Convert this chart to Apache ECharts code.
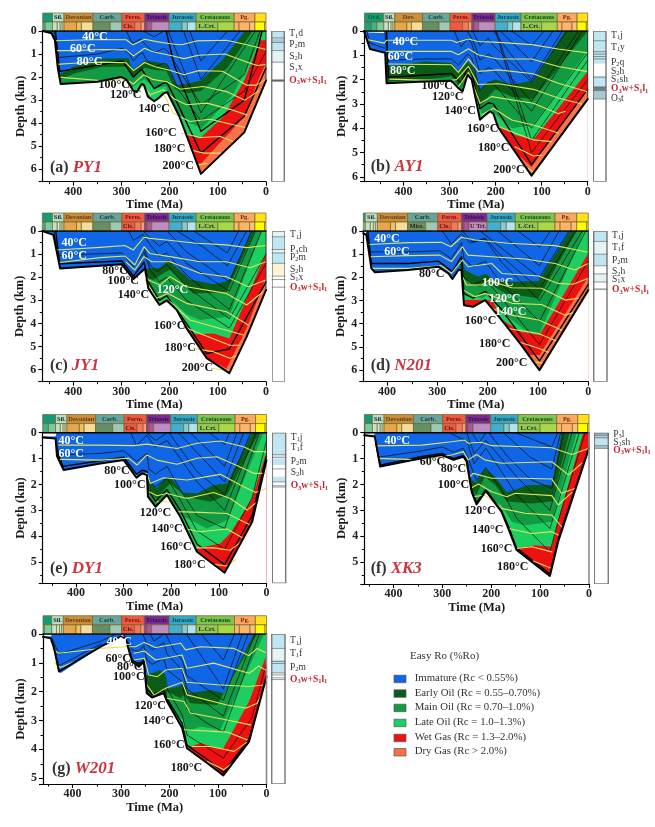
<!DOCTYPE html>
<html><head><meta charset="utf-8">
<style>html,body{margin:0;padding:0;background:#fff}#c{width:655px;height:827px}</style>
<script src="https://cdn.jsdelivr.net/npm/echarts@6/dist/echarts.min.js"></script>
</head><body><div id="c"></div>
<script>
// ---------- Legend / maturity classes ----------
const maturityNames = ['Immature (Rc < 0.55%)','Early Oil (Rc = 0.55–0.70%)','Main Oil (Rc = 0.70–1.0%)','Late Oil (Rc = 1.0–1.3%)','Wet Gas (Rc = 1.3–2.0%)','Dry Gas (Rc > 2.0%)'];
// ---------- Geological time scale (start Ma, end Ma) ----------
const periods = [[485,443],[443,419],[419,359],[359,299],[299,252],[252,201],[201,145],[145,66],[66,23],[23,0]];
const stages = [[485,470],[470,458],[458,443],[443,433],[433,427],[427,423],[423,419],[419,393],[393,383],[383,359],[359,323],[323,299],[299,272],[272,259],[259,252],[252,247],[247,237],[237,201],[201,174],[174,163],[163,145],[145,100],[100,66],[66,56],[56,34],[34,23],[23,3],[3,0]];

// ---------- (a) PY1 ----------
const PY1_base=[[463,0],[445,.1],[438,.4],[432,1.6],[426,2.3],[400,2.27],[350,2.2],[300,2],[290,2.1],[275,2.6],[268,2.65],[258,2.3],[253,2.35],[245,2.85],[232,3.05],[222,2.9],[212,2.7],[205,2.65],[180,3.7],[160,4.8],[135,6.2],[45,4.4],[0,2.15]];
const PY1_top=[];
const PY1_imm=[[442,.15],[436,.9],[432,1.85],[425,1.85],[400,1.55],[340,1.2],[285,1.18],[277,1.7],[265,1.5],[252,1.3],[228,1.35],[207,1.45],[185,2.35],[165,2.3],[135,2.15],[90,1.25],[44,0]];
const PY1_early=[[430,2.1],[420,2.05],[400,1.85],[340,1.55],[288,1.55],[278,2],[260,1.75],[252,1.6],[228,1.7],[207,1.72],[190,2.5],[165,2.7],[135,2.6],[80,1.6],[28,0]];
const PY1_main=[[427,2.4],[340,2.3],[295,2.1],[280,2.5],[262,2.2],[252,2.1],[230,2.5],[207,2.4],[192,3.43],[165,3.93],[133,4.22],[68,2.75],[30,1.2],[8,0]];
const PY1_late=[[192,3.6],[175,4.44],[137,4.65],[88,3.71],[44,2.1],[12,.4],[0,.4]];
const PY1_wet=[[158,5.45],[137,5.8],[102,5],[44,3.7],[19,2.27],[0,1.4]];
const PY1_layers=[[[440,0],[430,1.15],[350,1],[298,.75],[285,.95],[275,1.3],[262,1],[255,.95],[250,1.2],[232,1.55],[212,1.4],[205,1.45],[180,2.6],[135,3.9],[45,2.6],[0,.9]],[[290,0],[277,.55],[260,.35],[252,.55],[232,.95],[212,.75],[205,.85],[135,3.2],[45,1.9],[12,0]],[[255,0],[232,.25],[212,0]],[[203,0],[135,3.55],[22,0]],[[171,0],[135,2.1],[54,0]],[[158,0],[135,1.3],[80,0]]];
const PY1_thick=[[[437,0],[428,1.75],[298,1.3],[275,2],[258,1.65],[232,2.5],[212,2.25],[205,2.25],[180,3.3],[135,5.3],[45,3.7],[0,1.6]],[[207,0],[190,1.5],[135,4.35],[45,3],[8,0]]];
const PY1_iso=[[[438,.42],[400,.4],[340,.37],[290,.38],[276,.6],[252,.36],[227,.46],[199,.55],[175,.6],[144,.43],[82,.4],[40,.6],[0,.8]],[[436,.85],[400,.85],[340,.8],[290,.82],[275,1.08],[252,.75],[235,.9],[200,1.05],[170,1.2],[140,1.05],[85,1],[40,1.35],[18,1.5],[0,1.45]],[[434,1.45],[400,1.4],[340,1.35],[290,1.38],[275,1.72],[252,1.37],[230,1.55],[200,1.7],[170,1.9],[140,1.72],[90,1.75],[40,2.35],[20,2.35],[0,2.1]],[[431,2],[344,2.15],[290,2.1],[275,2.3],[254,1.9],[235,2.1],[206,2.2],[178,2.53],[130,2.41],[82,2.63],[44,3],[15,2.6]],[[270,2.6],[254,2.4],[240,2.77],[213,2.55],[190,2.95],[165,3.2],[122,3.13],[75,3.4],[40,3.64]],[[213,2.7],[192,3.57],[158,3.93],[116,3.83],[68,4.07],[40,4.2]],[[175,4.43],[137,4.62],[95,4.58],[68,4.8]],[[158,5.15],[130,5.3],[95,5.3]],[[140,5.8],[122,5.75]]];
const PY1_temps=[[355,.25,'40°C',1],[380,.78,'60°C',1],[366,1.33,'80°C',1],[315,2.36,'100°C',0],[291,2.77,'120°C',0],[232,3.4,'140°C',0],[218,4.44,'160°C',0],[200,5.12,'180°C',0],[182,5.84,'200°C',0]];
const PY1_units=[[0,.35,'b'],[.35,.5,'g'],[.5,.85,'b'],[.85,1.4,'p'],[1.4,2.1,'w'],[2.1,2.2,'d']];
const PY1_rules=[.3,.5,.85,1.35,2.15];
const PY1_tops=[[.13,'T1d'],[.58,'P2m'],[1.1,'S2h'],[1.6,'S1x'],[2.15,'O3w+S1l1']];

// ---------- (b) AY1 ----------
const AY1_base=[[486,0],[473,.74],[440,.9],[437,2.15],[354,2.08],[296,2.05],[281,2.35],[272,2.49],[261,1.8],[252,2],[234,3.65],[225,3.5],[212,3.3],[205,3.4],[195,3.95],[122,5.95],[0,2.8]];
const AY1_top=[[484,0],[476,.06],[442,.08],[439,0]];
const AY1_imm=[[438,.9],[433,1.46],[354,1.25],[296,1.32],[281,1.66],[263,1.25],[249,1.46],[234,2.4],[216,2.12],[201,2],[165,2.2],[118,2.05],[49,0]];
const AY1_early=[[433,2.08],[354,2],[296,1.87],[277,2.3],[261,1.73],[249,1.95],[232,3.1],[216,2.7],[201,2.4],[165,2.7],[118,2.8],[0,0]];
const AY1_main=[[433,2.3],[296,2.2],[277,2.5],[261,1.9],[249,2.2],[230,3.45],[209,3.25],[190,3.6],[165,4],[118,3.87],[0,.8]];
const AY1_late=[[240,4],[194,3.9],[158,4.28],[118,4.46],[0,1.67]];
const AY1_wet=[[145,5.2],[122,5.6],[0,2.35]];
const AY1_layers=[[[480,0],[473,.5],[442,.7]],[[441,0],[435,1.2],[354,1.15],[296,1.15],[281,1.4],[261,.95],[252,1.1],[234,2.45],[216,2.1],[205,2.15],[122,4],[0,.9]],[[290,0],[275,.65],[261,.3],[252,.5],[234,1.75],[216,1.5],[205,1.6],[122,3.3],[12,0]],[[262,0],[250,.35],[234,1.2],[216,.95],[205,1.1],[122,2.9],[20,0]],[[250,0],[234,.6],[216,.3],[205,.6],[122,2.1],[45,0]],[[205,0],[165,1],[122,2],[55,0]],[[190,0],[122,1.25],[75,0]],[[165,0],[122,.6],[95,0]],[[198,0],[122,4.5],[0,1.2]],[[200,0],[122,5],[0,2]]];
const AY1_thick=[[[437,0],[433,1.9],[296,1.75],[275,2.15],[261,1.5],[252,1.7],[234,3.2],[216,2.95],[205,3],[122,5.5],[0,2.4]]];
const AY1_iso=[[[480,.35],[442,.5],[437,.38],[296,.38],[285,.47],[259,.33],[238,.43],[194,.47],[122,.56],[64,.74],[0,.9]],[[437,.84],[296,.84],[281,.98],[259,.73],[238,.98],[194,1.15],[122,1.15],[64,1.46],[0,1.67]],[[433,1.36],[296,1.39],[281,1.7],[259,1.15],[238,1.66],[194,1.6],[118,1.76],[64,2.15],[0,2.5]],[[430,1.98],[303,2.05],[285,2],[259,1.46],[238,2.2],[194,2.17],[118,2.4],[64,2.76],[13,3]],[[281,2.3],[259,1.7],[234,2.97],[209,2.7],[118,2.97],[64,3.4],[49,3.3]],[[230,3.45],[205,3.18],[165,3.66],[118,3.87],[64,4.2]],[[194,3.93],[158,4.2],[118,4.48],[78,4.55]],[[158,4.76],[118,5.14],[100,5.1]],[[129,5.65],[118,5.8]]];
const AY1_temps=[[396,.43,'40°C',1],[407,1.05,'60°C',1],[402,1.64,'80°C',1],[327,2.26,'100°C',0],[304,2.7,'120°C',0],[277,3.27,'140°C',0],[228,4.04,'160°C',0],[204,4.83,'180°C',0],[171,5.7,'200°C',0]];
const AY1_units=[[0,.4,'b'],[.4,.7,'b'],[.7,1.35,'b'],[1.35,1.85,'w'],[1.85,2.3,'b'],[2.3,2.45,'d'],[2.45,2.8,'g']];
const AY1_rules=[.4,.85,.95,1.05,1.15,1.9,2.3,2.45,2.8];
const AY1_tops=[[.19,'T1j'],[.67,'T1y'],[1.29,'P2q'],[1.66,'S2h'],[2,'S1sh'],[2.38,'O3w+S1l1'],[2.76,'O3t']];

// ---------- (c) JY1 ----------
const JY1_base=[[464,0],[441,.17],[427,1.62],[344,1.5],[299,1.44],[275,2.08],[251,1.62],[244,2.48],[221,3.2],[206,3],[185,3.42],[165,4.2],[123,5.5],[76,6.15],[40,4.57],[0,2.55]];
const JY1_top=[];
const JY1_imm=[[463,.1],[427,1.8],[300,1.7],[275,2.2],[268,1.97],[254,1.68],[240,1.6],[220,1.6],[203,1.25],[185,1.6],[158,2.1],[109,2.3],[78,2.16],[33,.2],[30,0]];
const JY1_early=[[268,2.2],[251,1.98],[234,2.12],[213,1.83],[199,1.68],[178,2.12],[151,2.7],[82,2.65],[23,0]];
const JY1_main=[[248,2.34],[227,3.06],[203,2.84],[165,3.6],[137,3.85],[76,3.7],[9,0]];
const JY1_late=[[240,4],[165,4.14],[151,4.47],[109,4.43],[76,4.65],[37,2.77],[0,.97]];
const JY1_wet=[[123,5.5],[82,5.95],[40,4.2],[0,2]];
const JY1_layers=[[[440,0],[430,1.05],[299,.95],[275,1.55],[253,.9],[240,1.7],[221,2.2],[206,2],[165,3],[76,4.2],[0,1.4]],[[285,0],[275,.4],[255,.15],[240,.6],[221,1.1],[206,.95],[165,1.9],[76,3.4],[9,0]],[[255,0],[240,.3],[221,.65],[206,.45],[165,1.4],[76,2.6],[22,0]],[[205,0],[165,.9],[76,2.2],[30,0]],[[185,0],[130,.7],[80,1.5],[40,0]],[[150,0],[80,.95],[57,0]],[[252,.8],[240,1.5],[225,1.75],[206,1.45],[165,2.4],[76,3.8],[0,1]]];
const JY1_thick=[[[436,0],[428,1.42],[299,1.3],[275,1.95],[253,1.35],[244,2.2],[221,3],[206,2.8],[165,4],[123,5.3],[76,5.1],[0,2.2]]];
const JY1_iso=[[[434,.82],[344,.71],[293,.63],[275,.82],[253,.27],[241,.32],[206,.39],[144,.53],[82,.6],[40,.72],[0,.63]],[[427,1.36],[344,1.15],[293,1.08],[272,1.47],[253,.68],[241,.97],[199,1.11],[137,1.33],[82,1.33],[33,1.59],[0,1.33]],[[290,1.35],[272,1.69],[253,1.11],[237,1.33],[199,1.33],[137,1.83],[82,1.98],[37,2.41],[0,2.12]],[[255,1.69],[244,2.12],[220,2.34],[199,1.98],[165,2.41],[82,2.7],[40,3.2],[6,2.63]],[[251,2.12],[227,2.91],[203,2.7],[165,3.13],[82,3.49],[37,4.07]],[[220,3.13],[199,3.06],[158,3.85],[82,4.29],[47,4.5]],[[171,4.14],[137,4.43],[75,4.94],[54,4.94]],[[151,5.08],[109,5.22],[75,5.51],[60,5.4]],[[109,5.95],[75,6.05]]];
const JY1_temps=[[398,.53,'40°C',1],[398,1.08,'60°C',1],[313,1.72,'80°C',0],[296,2.18,'100°C',0],[275,2.77,'140°C',0],[194,2.55,'120°C',1],[200,4.1,'160°C',0],[178,5.04,'180°C',0],[142,5.92,'200°C',0]];
const JY1_units=[[0,.25,'p'],[.25,.8,'b'],[.8,.95,'p'],[.95,1.4,'b'],[1.4,1.9,'y'],[1.9,2.35,'w']];
const JY1_rules=[.25,.8,.95,1.4,1.95,2.1,2.43];
const JY1_tops=[[.17,'T1j'],[.82,'P3ch'],[1.15,'P2m'],[1.66,'S2h'],[2.02,'S1x'],[2.44,'O3w+S1l1']];

// ---------- (d) N201 ----------
const N201_base=[[447,.1],[441,.17],[431,1.61],[424,1.78],[358,1.68],[298,1.54],[278,1.83],[270,2.07],[258,1.68],[252,1.68],[247,3.2],[229,3.27],[205,2.98],[172,3.84],[133,4.92],[97,6],[0,2.55]];
const N201_top=[[447,0],[447,.07],[441,.1],[439,0]];
const N201_imm=[[447,.2],[431,1.8],[358,1.9],[270,2.2],[258,1.8],[252,1.2],[245,1.68],[219,1.97],[205,1.83],[186,2.1],[152,2.19],[99,2.16],[36,0]];
const N201_early=[[252,1.8],[245,2.1],[215,2.4],[202,2.19],[166,2.69],[99,2.9],[23,0]];
const N201_main=[[247,2.69],[212,2.9],[195,2.7],[166,3.6],[126,4.27],[97,4.42],[8,0]];
const N201_late=[[247,2.98],[212,2.98],[190,3],[172,3.84],[133,4.35],[97,4.49],[0,.96]];
const N201_wet=[[172,4.4],[133,5.35],[97,5.35],[0,1.97]];
const N201_layers=[[[441,0],[434,.9],[358,.9],[295,.85],[272,1.2],[252,.5],[247,1.2],[229,1.55],[205,1.3],[172,2.3],[97,3.9],[5,0]],[[290,0],[272,.55],[252,.1],[235,.5],[205,.35],[172,1.35],[97,3],[12,0]],[[250,0],[229,.5],[205,.3],[172,1.1],[97,2.5],[25,0]],[[215,0],[172,.75],[97,2],[38,0]],[[180,0],[97,1.5],[58,0]],[[140,0],[97,.7],[75,0]],[[247,2],[229,2.3],[205,2.1],[172,2.9],[97,4.9],[0,1.3]]];
const N201_thick=[[[438,0],[431,1.4],[358,1.4],[298,1.3],[270,1.75],[252,1.1],[247,2.7],[229,2.9],[205,2.6],[172,3.4],[97,5.6],[0,2.3]]];
const N201_iso=[[[434,.58],[358,.5],[292,.49],[273,.68],[252,.27],[225,.39],[159,.53],[66,.63],[0,.92]],[[434,1.11],[358,1.06],[295,1.04],[272,1.32],[250,.68],[239,1.04],[192,1.11],[126,1.21],[66,1.4],[27,1.68],[0,1.4]],[[431,1.61],[358,1.61],[292,1.5],[272,1.83],[250,1.25],[239,1.54],[192,1.4],[172,1.83],[99,1.94],[60,2.26],[30,2.3],[0,2.04]],[[250,1.97],[242,2.33],[212,2.33],[198,2.13],[152,2.45],[93,2.47],[46,2.98],[20,2.9]],[[248,2.55],[225,2.83],[205,2.69],[152,3.12],[93,3.17],[46,3.63],[27,3.5]],[[192,3.34],[152,3.63],[99,3.84],[53,4.27]],[[162,4.2],[99,4.42],[60,4.78]],[[139,4.78],[99,5.06],[73,5.28]],[[113,5.64],[86,5.71]]];
const N201_temps=[[400,.32,'40°C',1],[380,.89,'60°C',1],[311,1.83,'80°C',0],[180,2.22,'100°C',1],[166,2.94,'120°C',1],[154,3.48,'140°C',1],[214,3.87,'160°C',0],[186,4.88,'180°C',0],[152,5.67,'200°C',0]];
const N201_units=[[0,.45,'b'],[.45,1,'p'],[1,1.5,'b'],[1.5,1.85,'w'],[1.85,2.2,'p'],[2.2,2.5,'w'],[2.5,2.55,'g']];
const N201_rules=[.45,1,1.5,1.85,2.2,2.5];
const N201_tops=[[.19,'T1j'],[.71,'T1f'],[1.28,'P2m'],[1.76,'S2h'],[2.08,'S1x'],[2.54,'O3w+S1l1']];

// ---------- (e) DY1 ----------
const DY1_base=[[470,.19],[443,.22],[440,.9],[426,1.44],[349,1.19],[300,1.06],[273,1.74],[261,1.57],[251,1.64],[249,2.47],[233,2.86],[223,2.67],[209,2.41],[181,3.25],[146,4.6],[88,5.41],[30,3.44],[0,1.06]];
const DY1_top=[[470,0],[470,.14],[443,.15],[441,0]];
const DY1_imm=[[470,.3],[426,1.6],[300,1.3],[273,1.9],[261,1.7],[252,1.5],[247,1.89],[230,2.15],[212,1.77],[202,1.7],[177,2.31],[146,2.35],[111,2.02],[83,1.96],[30,0]];
const DY1_early=[[249,2],[247,2.31],[230,2.54],[212,2.15],[202,1.96],[170,2.47],[118,2.67],[83,2.41],[16,0]];
const DY1_main=[[240,3.2],[200,3],[167,3.31],[125,3.7],[83,3.38],[6,0]];
const DY1_late=[[200,4],[146,4.47],[97,4.28],[76,3.89],[30,2.54],[0,.73]];
const DY1_wet=[[470,9],[0,9]];
const DY1_layers=[[[443,.22],[436,.85],[349,.8],[300,.7],[273,1.1],[251,.8],[247,1.4],[233,1.6],[209,1.3],[181,2.2],[146,3.2],[88,3.7],[15,0]],[[285,0],[273,.5],[252,.1],[233,.55],[209,.3],[181,1],[146,1.9],[88,3],[22,0]],[[252,0],[233,.3],[209,0]],[[205,0],[170,.9],[146,1.5],[88,2.4],[33,0]],[[185,0],[88,1.9],[48,0]],[[160,0],[88,1.3],[62,0]],[[120,0],[88,.45],[78,0]],[[247,1.85],[233,2.1],[209,1.75],[181,2.6],[146,3.8],[88,4.5],[30,2.5],[0,.3]]];
const DY1_thick=[[[441,.6],[428,1.3],[300,.95],[273,1.6],[261,1.45],[251,1.5],[249,2.2],[233,2.65],[209,2.2],[181,3],[146,4.3],[88,5.1],[30,3.2],[0,.9]]];
const DY1_iso=[[[436,.48],[349,.48],[279,.5],[251,.44],[230,.5],[188,.61],[146,.41],[97,.32],[48,.54],[27,.73],[0,.73]],[[433,1.03],[349,1.06],[289,.99],[272,1.25],[251,.86],[230,1.06],[188,1.22],[146,.99],[104,.93],[48,1.38],[27,1.57],[0,1.57]],[[279,1.57],[272,1.7],[251,1.57],[244,1.96],[216,1.74],[167,1.83],[97,1.61],[55,2.02],[23,2.31],[0,2.15]],[[247,2.28],[230,2.44],[209,2.35],[167,2.54],[111,2.31],[76,2.54],[41,2.99],[15,2.6]],[[230,2.67],[202,2.67],[188,3.05],[139,3.08],[83,3.12],[34,3.57]],[[174,3.7],[139,3.83],[83,3.72],[48,4.09]],[[149,4.45],[111,4.45],[76,4.54],[55,4.25]],[[111,5.09],[83,5.15],[65,4.9]]];
const DY1_temps=[[410,.32,'40°C',1],[410,.82,'60°C',1],[314,1.47,'80°C',0],[287,2,'100°C',0],[233,3.09,'120°C',0],[209,3.72,'140°C',0],[190,4.41,'160°C',0],[161,5.09,'180°C',0]];
const DY1_units=[[0,.65,'b'],[.65,.85,'b'],[.85,1,'p'],[1,1.25,'b'],[1.25,1.4,'w'],[1.4,1.7,'w'],[1.7,1.9,'b'],[1.9,2.1,'w']];
const DY1_rules=[.85,.95,1.4,1.9,2.05,2.1];
const DY1_tops=[[.17,'T1j'],[.57,'T1f'],[1.1,'P2m'],[1.53,'S2h'],[2.06,'O3w+S1l1']];

// ---------- (f) XK3 ----------
const XK3_base=[[459.5,.1],[438,.15],[427,1.31],[342,.99],[301,.86],[277,1.05],[257,.93],[250,1.12],[240,2.28],[230,2.77],[211,2.25],[179,3.05],[165,3.69],[148,4.53],[80,5.53],[63,4.2],[0,.6]];
const XK3_top=[[459.5,0],[459.5,.07],[440,.09],[437,0]];
const XK3_imm=[[459,.2],[427,1.5],[301,1],[277,1.2],[257,1.1],[250,1.3],[240,1.83],[230,1.92],[213,1.38],[192,1.7],[168,2.3],[124,2.02],[76,2.02],[56,0]];
const XK3_early=[[242,2],[240,2.2],[230,2.4],[213,1.7],[192,2.02],[168,2.66],[117,2.73],[76,2.66],[40,0]];
const XK3_main=[[230,3],[199,2.54],[179,2.8],[158,3.44],[131,3.57],[76,3.44],[25,0]];
const XK3_late=[[200,4],[148,4.47],[110,4.34],[76,4.4],[63,3.37],[12,0]];
const XK3_wet=[[459,9],[0,9]];
const XK3_layers=[[[438,.15],[431,.95],[342,.7],[300,.55],[277,.75],[257,.6],[247,1],[230,1.85],[211,1.35],[179,2.2],[165,2.7],[148,3.3],[80,4.6],[63,3.4],[8,0]],[[285,0],[265,.2],[250,.3],[235,1.2],[211,.6],[179,1.5],[148,2.4],[80,3.7],[60,2.5],[20,0]],[[250,0],[235,.8],[225,.6],[211,.3],[179,1],[148,1.7],[80,3],[35,0]],[[240,0],[225,.4],[211,0]],[[205,0],[165,.95],[120,1.8],[76,2.15],[52,0]],[[175,0],[120,.95],[76,1.4],[58,0]],[[150,0],[76,.55],[64,0]]];
const XK3_thick=[[[436,.4],[427,1.25],[342,.92],[301,.8],[277,1],[257,.88],[250,1.05],[240,2.2],[230,2.7],[211,2.2],[179,3],[165,3.6],[148,4.45],[80,5.45],[63,4.1],[0,.55]]];
const XK3_iso=[[[438,.51],[342,.48],[281,.35],[254,.28],[247,.41],[237,.39],[220,.37],[199,.5],[131,.54],[76,.58],[35,.84],[0,.6]],[[431,.99],[342,1.05],[281,.86],[257,.73],[247,1.05],[230,.84],[213,1.05],[179,1.18],[76,1.12],[42,1.63],[15,1.18]],[[254,1.18],[243,1.7],[237,1.57],[199,1.76],[138,1.76],[76,1.79],[56,2.34],[29,2.15]],[[243,2.15],[226,1.98],[199,2.28],[168,2.47],[151,2.34],[76,2.43],[63,2.79],[35,2.3]],[[237,2.47],[213,2.41],[179,2.92],[131,3.11],[76,3.18],[56,3.63]],[[168,3.69],[117,3.89],[76,3.82],[63,3.95]],[[148,4.47],[117,4.4],[76,4.6]],[[114,4.95],[76,5.24]]];
const XK3_temps=[[392,.31,'40°C',1],[320,1.12,'60°C',0],[277,1.38,'80°C',0],[277,2,'100°C',0],[223,3.02,'120°C',0],[207,3.76,'140°C',0],[189,4.47,'160°C',0],[156,5.17,'180°C',0]];
const XK3_units=[[0,.1,'b'],[.1,.2,'g'],[.2,.5,'b'],[.5,.62,'g']];
const XK3_rules=[.05,.1,.2,.5,.6];
const XK3_tops=[[.07,'P3l'],[.37,'S1sh'],[.68,'O3w+S1l1']];

// ---------- (g) W201 ----------
const W201_base=[[461,.1],[445,.15],[438,.5],[428,1.3],[425,1.36],[342,.44],[301,.09],[298,.03],[291,.15],[277,.96],[263,1.13],[253,.96],[247,2.05],[236,2.2],[212,2.05],[205,2.34],[174,3.26],[164,3.96],[122,4.48],[89,4.9],[36,3.73],[0,1.48]];
const W201_top=[[461,0],[461,.07],[445,.09],[442,0]];
const W201_imm=[[460,.2],[425,1.5],[342,.6],[298,.2],[277,1.1],[263,1.3],[253,1.1],[250,1.5],[246,1.42],[219,1.25],[208,1.42],[203,1.9],[181,1.82],[170,1.71],[160,2.05],[115,1.94],[88,2.05],[26,0]];
const W201_early=[[250,2.6],[212,2.5],[205,2],[177,2.23],[170,2.11],[157,2.4],[102,2.46],[19,0]];
const W201_main=[[205,2.6],[170,2.98],[164,3.38],[136,3.21],[95,3.32],[5,0]];
const W201_late=[[180,4.2],[164,3.96],[136,3.78],[102,3.96],[89,3.96],[36,2.34],[0,.73]];
const W201_wet=[[461,9],[0,9]];
const W201_layers=[[[442,.15],[428,.7],[342,.25],[310,0]],[[438,.5],[428,1.1],[342,.35]],[[295,0],[277,.55],[263,.6],[253,.4],[247,.9],[236,1.05],[212,.85],[205,1.25],[174,1.65],[164,2.6],[122,3.1],[89,3.4],[15,0]],[[255,0],[247,.35],[236,.55],[212,.3],[205,.7],[174,1.25],[164,1.9],[89,2.85],[24,0]],[[240,0],[232,.25],[212,0]],[[208,0],[190,.6],[174,.9],[164,1.45],[89,2.3],[38,0]],[[165,0],[89,1.9],[50,0]],[[135,0],[89,.9],[66,0]],[[205,1.9],[174,2.8],[164,3.5],[89,4.3],[30,2.9],[0,1]]];
const W201_thick=[[[292,.1],[277,.9],[263,1.05],[253,.9],[247,1.9],[236,2.1],[212,1.95],[205,2.25],[174,3.1],[164,3.85],[122,4.35],[89,4.8],[36,3.65],[0,1.45]]];
const W201_iso=[[[442,.52],[428,.67],[342,.5],[287,.44],[270,.44],[253,.29],[229,.47],[177,.32],[167,.55],[136,.44],[67,.5],[36,.75],[19,.5],[0,.67]],[[438,.98],[425,1.16],[395,.95]],[[273,.67],[252,.59],[229,.9],[174,.73],[164,1.19],[109,1.01],[36,1.36],[16,1.11],[0,1.27]],[[273,.9],[252,.84],[243,1.42],[225,1.48],[208,1.25],[174,1.19],[164,1.67],[102,1.76],[36,1.82],[0,1.76]],[[247,1.76],[232,2.11],[208,1.88],[174,1.67],[164,2.11],[81,2.46],[43,2.57],[19,2.4],[10,2.1]],[[206,2.23],[170,2.34],[157,2.74],[81,2.98],[33,3.15]],[[170,3.32],[81,3.4],[40,3.67]],[[153,3.9],[115,3.9],[67,4.07],[40,3.75]],[[122,4.42],[88,4.71],[67,4.42]]];
const W201_temps=[[304,.29,'40°C',1],[306,.88,'60°C',0],[282,1.13,'80°C',0],[284,1.48,'100°C',0],[240,2.51,'120°C',0],[223,3.03,'140°C',0],[201,3.84,'160°C',0],[165,4.65,'180°C',0]];
const W201_units=[[0,.5,'b'],[.5,.9,'p'],[.9,1.35,'b'],[1.35,1.58,'w']];
const W201_rules=[.5,.95,1.02,1.35,1.42,1.58,1.52];
const W201_tops=[[.24,'T1j'],[.68,'T1f'],[1.15,'P2m'],[1.58,'O3w+S1l1']];

// ---------- Time-scale labels per panel ----------
const periodLabelsA=['','Sil.','Devonian','Carb.','Perm.','Triassic','Jurassic','Cretaceous','Pg.',''];
const periodLabelsB=['Ord.','Sil.','Dev.','Carb.','Perm.','Triassic','Jurassic','Cretaceous','Pg.',''];
const stageLabelsStd={12:'Cis.',21:'L.Crt.'};
const stageLabelsB={21:'L.Crt.'};
const stageLabelsD={10:'Miss.',12:'Cis.',17:'U Tri.',21:'L.Crt.'};

// ---------- Styles ----------
const SERIF='"Liberation Serif","Times New Roman",serif';
const bandColors=['#0f66e6','#0a5c16','#119c44','#1ccf60','#ee1111','#f6734a'];
const periodColors=['#149a78','#b4dfc6','#c98f3c','#68a49b','#ee5a42','#7f2c91','#33a9c4','#7fc350','#fca860','#ffe01a'];
const stageColors=['#1fa079','#3cb48c','#7accA0','#c2e3c9','#d2ebd2','#e0f0dc','#c8e6cf','#e6a64e','#f0c060','#f5dc9a','#678f66','#9ec8b5','#ef5845','#fb745c','#fb9a85','#983999','#b051a5','#bd8cc3','#42aed0','#80cfd8','#b3e3ee','#8ccd57','#a6d84a','#fdb46c','#fdb46c','#fdc07a','#ffff00','#ffed00'];
const periodTextColors=['#063','#222','#6b3a10','#123f3a','#7a1410','#2a1060','#0c3f66','#134a12','#6b2a10','#333'];
const unitColors={b:'#bfe6f2',p:'#e6f3f3',w:'#ffffff',y:'#fdf3d5',g:'#a9c8d4',d:'#6d7f88'};

// Layout of the seven panels (px)
const frames=[
 {L:42.7,R:266,T:31,B:181.7,ts:13,xmax:463.3,ymax:6.54,cL:271.7,cR:284.3,tx:50,ty:169,tag:'(a)',name:'PY1',P:periodLabelsA,S:stageLabelsStd},
 {L:364,R:587.7,T:31,B:181.7,ts:13,xmax:486,ymax:6.2,cL:593.3,cR:606,tx:370.7,ty:168,tag:'(b)',name:'AY1',P:periodLabelsB,S:stageLabelsB},
 {L:42.3,R:266,T:231,B:381.7,ts:213,xmax:464,ymax:6.52,cL:272,cR:285,tx:50,ty:367,tag:'(c)',name:'JY1',P:periodLabelsA,S:stageLabelsStd},
 {L:363.3,R:588.3,T:231,B:381.7,ts:213,xmax:447,ymax:6.5,cL:593.7,cR:607,tx:370.7,ty:367,tag:'(d)',name:'N201',P:periodLabelsA,S:stageLabelsD},
 {L:42.7,R:266.5,T:432.7,B:583.3,ts:414.5,xmax:470,ymax:5.82,cL:272.3,cR:285.7,tx:50,ty:570,tag:'(e)',name:'DY1',P:periodLabelsA,S:stageLabelsStd},
 {L:364.3,R:589,T:432.7,B:584,ts:414.5,xmax:459.5,ymax:5.84,cL:594.3,cR:608.3,tx:370.7,ty:570,tag:'(f)',name:'XK3',P:periodLabelsA,S:stageLabelsStd,edge:1},
 {L:43,R:266.5,T:634,B:784,ts:615.7,xmax:461,ymax:5.2,cL:271.7,cR:285,tx:52,ty:770,tag:'(g)',name:'W201',P:periodLabelsA,S:stageLabelsStd,edge:1}
];
const wells=[
 [PY1_base,PY1_imm,PY1_early,PY1_main,PY1_late,PY1_wet,PY1_layers,PY1_thick,PY1_iso,PY1_temps,PY1_units,PY1_rules,PY1_tops,PY1_top],
 [AY1_base,AY1_imm,AY1_early,AY1_main,AY1_late,AY1_wet,AY1_layers,AY1_thick,AY1_iso,AY1_temps,AY1_units,AY1_rules,AY1_tops,AY1_top],
 [JY1_base,JY1_imm,JY1_early,JY1_main,JY1_late,JY1_wet,JY1_layers,JY1_thick,JY1_iso,JY1_temps,JY1_units,JY1_rules,JY1_tops,JY1_top],
 [N201_base,N201_imm,N201_early,N201_main,N201_late,N201_wet,N201_layers,N201_thick,N201_iso,N201_temps,N201_units,N201_rules,N201_tops,N201_top],
 [DY1_base,DY1_imm,DY1_early,DY1_main,DY1_late,DY1_wet,DY1_layers,DY1_thick,DY1_iso,DY1_temps,DY1_units,DY1_rules,DY1_tops,DY1_top],
 [XK3_base,XK3_imm,XK3_early,XK3_main,XK3_late,XK3_wet,XK3_layers,XK3_thick,XK3_iso,XK3_temps,XK3_units,XK3_rules,XK3_tops,XK3_top],
 [W201_base,W201_imm,W201_early,W201_main,W201_late,W201_wet,W201_layers,W201_thick,W201_iso,W201_temps,W201_units,W201_rules,W201_tops,W201_top]
];

const grid=[],xAxis=[],yAxis=[],series=[];
function addCoord(L,T,W,H,xa,ya){
  const i=grid.length; grid.push({left:L,top:T,width:W,height:H,containLabel:false});
  xAxis.push(Object.assign({type:'value',gridIndex:i},xa)); yAxis.push(Object.assign({type:'value',gridIndex:i},ya));
  return i;
}
function poly(i,pts,fill,stroke,lw){
  series.push({type:'custom',coordinateSystem:'cartesian2d',xAxisIndex:i,yAxisIndex:i,clip:true,silent:true,data:pts,
    renderItem:(p,api)=>{ if(p.dataIndex!==0) return null;
      return {type:'polygon',shape:{points:pts.map(q=>api.coord(q))},style:{fill:fill,stroke:stroke||null,lineWidth:lw||0}};}});
}
function line(i,pts,color,w){
  series.push({type:'line',xAxisIndex:i,yAxisIndex:i,data:pts,showSymbol:false,symbol:'none',silent:true,animation:false,
    lineStyle:{color:color,width:w,cap:'round',join:'round'},clip:true});
}
function subRich(t){
  return t.replace(/\d+|[^\d]+/g,m=>/\d/.test(m)?'{s|'+m+'}':'{n|'+m+'}');
}

frames.forEach((f,k)=>{
  const [base,imm,early,main,late,wet,layers,thick,iso,temps,units,rules,tops,topMask]=wells[k];
  const i=addCoord(f.L,f.T,f.R-f.L,f.B-f.T,
    {inverse:true,min:0,max:f.xmax,interval:100,z:10,name:'Time (Ma)',nameLocation:'middle',nameGap:15,
     nameTextStyle:{fontFamily:SERIF,fontWeight:'bold',fontSize:12.5,color:'#1a1a1a'},
     axisLine:{onZero:false,lineStyle:{color:'#000',width:1.2}},axisTick:{length:4,lineStyle:{color:'#000',width:1.1},customValues:[0,100,200,300,400]},
     minorTick:{show:true,splitNumber:2,length:2.5,lineStyle:{color:'#000',width:1}},
     splitLine:{show:false},minorSplitLine:{show:false},
     axisLabel:{fontFamily:SERIF,fontWeight:'bold',fontSize:12,color:'#222',margin:4,showMaxLabel:false,formatter:v=>v%100===0?String(v):''}},
    {inverse:true,min:0,max:f.ymax,interval:1,z:10,name:'Depth (km)',nameLocation:'middle',nameGap:14,
     nameTextStyle:{fontFamily:SERIF,fontWeight:'bold',fontSize:12.5,color:'#1a1a1a'},
     axisLine:{onZero:false,lineStyle:{color:'#000',width:1.2}},axisTick:{length:4,lineStyle:{color:'#000',width:1.1}},
     minorTick:{show:true,splitNumber:2,length:2.5,lineStyle:{color:'#000',width:1}},
     splitLine:{show:false},minorSplitLine:{show:false},
     axisLabel:{fontFamily:SERIF,fontWeight:'bold',fontSize:12,color:'#222',margin:6,showMaxLabel:false,formatter:v=>Number.isInteger(v)?String(v):''}});
  const X=f.xmax,Y=f.ymax;
  // painter's order: deepest class first, shallower classes over it
  poly(i,[[X,0],[0,0],[0,Y],[X,Y]],bandColors[5]);
  [[wet,4],[late,3],[main,2],[early,1],[imm,0]].forEach(([b,c])=>{
    const first=b[0],last=b[b.length-1];
    const pts=[[X,0],[X,Y*2]].concat(b,[[last[0],0]]);
    if(first[0]<X) pts.splice(2,0,[X,first[1]>1?first[1]:Y*2]);
    poly(i,pts,bandColors[c]);
  });
  layers.forEach(l=>line(i,l,'#0b0b0b',.7));
  thick.forEach(l=>line(i,l,'#000',1.4));
  iso.forEach(l=>line(i,l,'#e0e35c',1.1));
  // blank everything beneath the base of the section (and the hiatus above it)
  poly(i,base.concat([[0,Y],[X,Y]]),'#ffffff');
  if(topMask.length) poly(i,topMask,'#ffffff');
  line(i,base,'#000',2);
  line(i,[[X,0],[0,0]],'#000',1.6);
  line(i,[[0,0],[0,base[base.length-1][1]]],'#333',1);
  if(f.edge) line(i,[[0,0],[0,Y]],'#8a8a8a',1.6);
  // temperature labels
  series.push({type:'custom',coordinateSystem:'cartesian2d',xAxisIndex:i,yAxisIndex:i,clip:false,silent:true,z:6,data:temps.map(t=>[t[0],t[1]]),
    renderItem:(p,api)=>{const t=temps[p.dataIndex],c=api.coord([t[0],t[1]]);
      return {type:'text',style:{x:c[0],y:c[1],text:t[2],align:'center',verticalAlign:'middle',fill:t[3]?'#fff':'#151515',font:'bold 12px '+SERIF}};}});

  // time scale strip
  const j=addCoord(f.L,f.ts,f.R-f.L,f.T-f.ts,{show:false,inverse:true,min:0,max:f.xmax},{show:false,min:0,max:2});
  const rows=[...periods.map((p,n)=>({a:p[0],b:p[1],r:1,c:periodColors[n],t:f.P[n],tc:periodTextColors[n]})),
              ...stages.map((p,n)=>({a:p[0],b:p[1],r:0,c:stageColors[n],t:f.S[n]||'',tc:'#3a2010'}))];
  series.push({type:'custom',coordinateSystem:'cartesian2d',xAxisIndex:j,yAxisIndex:j,clip:false,silent:true,data:rows.map(r=>[r.a,r.r]),
    renderItem:(p,api)=>{const r=rows[p.dataIndex];
      const a=Math.min(r.a,f.xmax);if(r.b>=f.xmax) return null;
      const p0=api.coord([a,r.r+1]),p1=api.coord([r.b,r.r]);
      const kids=[{type:'rect',shape:{x:p0[0],y:p0[1],width:p1[0]-p0[0],height:p1[1]-p0[1]},style:{fill:r.c,stroke:'#6f6428',lineWidth:.7}}];
      if(r.t) kids.push({type:'text',style:{x:(p0[0]+p1[0])/2,y:(p0[1]+p1[1])/2,text:r.t,align:'center',verticalAlign:'middle',fill:r.tc,font:'bold 6.4px '+SERIF}});
      return {type:'group',children:kids};}});

  // stratigraphic column
  const c=addCoord(f.cL,f.T,f.cR-f.cL,f.B-f.T,{show:false,min:0,max:1},{show:false,inverse:true,min:0,max:f.ymax});
  series.push({type:'custom',coordinateSystem:'cartesian2d',xAxisIndex:c,yAxisIndex:c,clip:false,silent:true,data:units.map(u=>[0,u[0]]),
    renderItem:(p,api)=>{const u=units[p.dataIndex],p0=api.coord([0,u[0]]),p1=api.coord([1,u[1]]);
      return {type:'rect',shape:{x:p0[0],y:p0[1],width:p1[0]-p0[0],height:p1[1]-p0[1]},style:{fill:unitColors[u[2]]}};}});
  rules.forEach(d=>line(c,[[0,d],[1,d]],'#555',.6));
  poly(c,[[0,0],[1,0],[1,f.ymax],[0,f.ymax]],'rgba(0,0,0,0)','#7d7d7d',1.5);
  series.push({type:'custom',coordinateSystem:'cartesian2d',xAxisIndex:c,yAxisIndex:c,clip:false,silent:true,data:tops.map(t=>[1,t[0]]),
    renderItem:(p,api)=>{const t=tops[p.dataIndex],q=api.coord([1,t[0]]),red=t[1].startsWith('O3w');
      const col=red?'#c4262e':'#333';
      return {type:'text',style:{x:q[0]+5,y:q[1],text:subRich(t[1]),verticalAlign:'middle',align:'left',
        rich:{n:{fontFamily:SERIF,fontSize:9.5,fontWeight:red?'bold':'normal',fill:col,color:col},
              s:{fontFamily:SERIF,fontSize:6.5,fontWeight:red?'bold':'normal',fill:col,color:col,padding:[4,0,0,0]}}}};}});
});

// Panel tags & legend as real text
const graphic=[];
frames.forEach(f=>{
  graphic.push({type:'text',left:f.tx,top:f.ty-10,z:20,style:{text:'{t|'+f.tag+' }{n|'+f.name+'}',
    rich:{t:{fontFamily:SERIF,fontWeight:'bold',fontSize:16,fill:'#333',color:'#333'},
          n:{fontFamily:SERIF,fontWeight:'bold',fontStyle:'italic',fontSize:17,fill:'#cb3540',color:'#cb3540'}}}});
});
graphic.push({type:'text',left:410,top:651,style:{text:'Easy Ro (%Ro)',fontFamily:SERIF,fontSize:11,fill:'#333'}});
const legendY=[678.7,693.3,707.7,722.7,737.7,752];
maturityNames.forEach((n,k)=>{
  graphic.push({type:'rect',shape:{x:394,y:legendY[k]-3.5,width:12,height:7.5},style:{fill:bandColors[k],stroke:'#555',lineWidth:.7}});
  graphic.push({type:'text',left:414.7,top:legendY[k]-6,style:{text:n,fontFamily:SERIF,fontSize:10.8,fill:'#333'}});
});

const chart=echarts.init(document.getElementById('c'),null,{renderer:'canvas'});
chart.setOption({animation:false,backgroundColor:'#fff',grid,xAxis,yAxis,series,graphic,legend:{show:false},tooltip:{show:false}});
</script></body></html>
